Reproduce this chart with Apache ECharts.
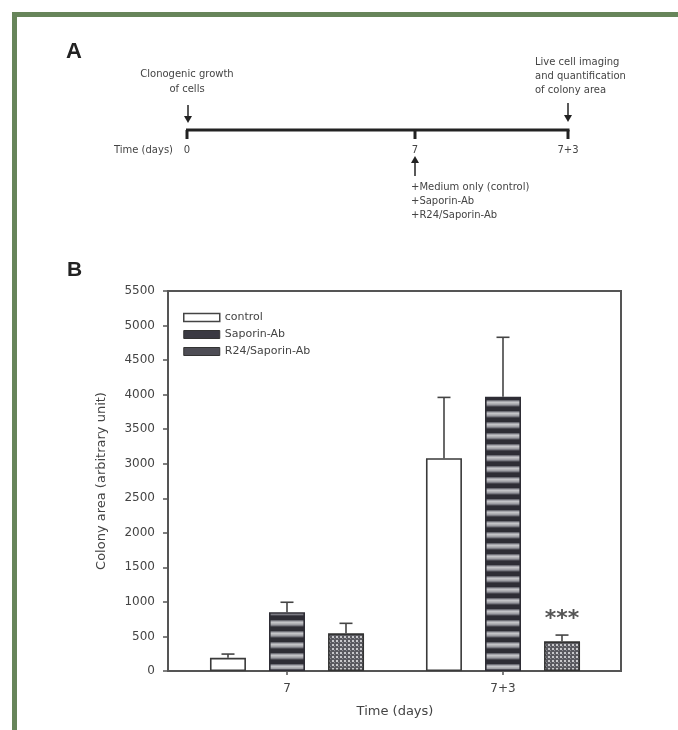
<!DOCTYPE html>
<html>
<head>
<meta charset="utf-8">
<script src="https://cdn.jsdelivr.net/npm/echarts@6/dist/echarts.min.js"></script>
<style>html,body{margin:0;padding:0;background:#fff;}#c{width:678px;height:730px;}</style>
</head>
<body>
<div id="c"></div>
<script>
// ---- data ----
const categories = ['7', '7+3'];
const seriesNames = ['control', 'Saporin-Ab', 'R24/Saporin-Ab'];
const controlMean = [190, 3080];
const controlErr = [55, 880];
const saporinMean = [850, 3970];
const saporinErr = [145, 860];
const r24Mean = [545, 430];
const r24Err = [145, 90];
const yMin = 0, yMax = 5500, yStep = 500;
const significance = ['', '***']; // for R24/Saporin-Ab
// panel A texts
const timelineLabels = ['0', '7', '7+3'];
const timelineAxisName = 'Time (days)';
const startNote = ['Clonogenic growth', 'of cells'];
const endNote = ['Live cell imaging', 'and quantification', 'of colony area'];
const treatNote = ['+Medium only (control)', '+Saporin-Ab', '+R24/Saporin-Ab'];

// ---- patterns ----
function stripePattern() {
  const c = document.createElement('canvas'); c.width = 4; c.height = 11;
  const g = c.getContext('2d');
  const rows = ['#2e2d35','#2e2d35','#2e2d35','#2e2d35','#6e6e76','#a4a4aa','#c4c4c8','#b4b4b8','#a0a0a6','#7a7a82','#48474f'];
  rows.forEach((col, i) => { g.fillStyle = col; g.fillRect(0, i, 4, 1); });
  return c;
}
function dotPattern() {
  const c = document.createElement('canvas'); c.width = 4; c.height = 4;
  const g = c.getContext('2d');
  g.fillStyle = '#5a5a60'; g.fillRect(0, 0, 4, 4);
  g.fillStyle = '#c8c8cb'; g.fillRect(0, 0, 2, 2);
  g.fillStyle = '#8e8e94'; g.fillRect(2, 2, 1, 1);
  return c;
}
const stripeFill = { image: stripePattern(), repeat: 'repeat' };
const dotFill = { image: dotPattern(), repeat: 'repeat' };

const FONT = 'DejaVu Sans';
const TXT = '#444';
const offsets = [-59, 0, 59];
const errSets = [
  categories.map((c, i) => [i, controlMean[i], controlMean[i] + controlErr[i]]),
  categories.map((c, i) => [i, saporinMean[i], saporinMean[i] + saporinErr[i]]),
  categories.map((c, i) => [i, r24Mean[i], r24Mean[i] + r24Err[i]])
];

function errSeries(k) {
  return {
    type: 'custom', xAxisIndex: 1, yAxisIndex: 1, z: 1,
    data: errSets[k],
    encode: { x: 0, y: 2 },
    renderItem: function (params, api) {
      const top = api.coord([api.value(0), api.value(2)]);
      const base = api.coord([api.value(0), api.value(1)]);
      const x = top[0] + offsets[k];
      const st = { stroke: '#444', lineWidth: 1.6 };
      return { type: 'group', children: [
        { type: 'line', shape: { x1: x, y1: base[1], x2: x, y2: top[1] }, style: st },
        { type: 'line', shape: { x1: x - 6.5, y1: top[1], x2: x + 6.5, y2: top[1] }, style: st }
      ]};
    }
  };
}

// ---- panel A graphics ----
const tlY = 130, tlX = [187, 415, 568];
const gfx = [];
gfx.push({ type: 'rect', shape: { x: 12, y: 12, width: 680, height: 5 }, style: { fill: '#67855a' } });
gfx.push({ type: 'rect', shape: { x: 12, y: 12, width: 5, height: 730 }, style: { fill: '#67855a' } });
gfx.push({ type: 'text', x: 66, y: 41, style: { text: 'A', font: 'bold 22px Liberation Sans', fill: '#222' } });
gfx.push({ type: 'text', x: 67, y: 260, style: { text: 'B', font: 'bold 21px Liberation Sans', fill: '#222' } });
gfx.push({ type: 'line', shape: { x1: tlX[0] - 1, y1: tlY, x2: tlX[2] + 1.5, y2: tlY }, style: { stroke: '#222', lineWidth: 3 } });
tlX.forEach((x, i) => {
  gfx.push({ type: 'line', shape: { x1: x, y1: tlY, x2: x, y2: tlY + 9 }, style: { stroke: '#222', lineWidth: 3 } });
  gfx.push({ type: 'text', x: x, y: 150, style: { text: timelineLabels[i], font: '10px ' + FONT, fill: TXT, align: 'center', verticalAlign: 'middle' } });
});
gfx.push({ type: 'text', x: 173, y: 150, style: { text: timelineAxisName, font: '10px ' + FONT, fill: TXT, align: 'right', verticalAlign: 'middle' } });
function arrow(x, y1, y2) {
  const dir = y2 > y1 ? 1 : -1;
  gfx.push({ type: 'line', shape: { x1: x, y1: y1, x2: x, y2: y2 - dir * 5 }, style: { stroke: '#222', lineWidth: 1.5 } });
  gfx.push({ type: 'polygon', shape: { points: [[x - 4, y2 - dir * 7], [x + 4, y2 - dir * 7], [x, y2]] }, style: { fill: '#222' } });
}
arrow(188, 105, 123);
arrow(568, 103, 122);
arrow(415, 176, 156);
startNote.forEach((t, i) => gfx.push({ type: 'text', x: 187, y: 74 + i * 15, style: { text: t, font: '10px ' + FONT, fill: TXT, align: 'center', verticalAlign: 'middle' } }));
endNote.forEach((t, i) => gfx.push({ type: 'text', x: 535, y: 62 + i * 14, style: { text: t, font: '10px ' + FONT, fill: TXT, align: 'left', verticalAlign: 'middle' } }));
treatNote.forEach((t, i) => gfx.push({ type: 'text', x: 411, y: 187 + i * 14, style: { text: t, font: '10px ' + FONT, fill: TXT, align: 'left', verticalAlign: 'middle' } }));

const chart = echarts.init(document.getElementById('c'), null, { renderer: 'canvas' });
chart.setOption({
  animation: false,
  backgroundColor: '#fff',
  textStyle: { fontFamily: FONT },
  graphic: gfx,
  legend: {
    orient: 'vertical', left: 178, top: 307,
    itemWidth: 36, itemHeight: 8, itemGap: 6, icon: 'rect',
    textStyle: { fontFamily: FONT, fontSize: 11, color: TXT },
    data: [
      { name: seriesNames[0], icon: 'rect', itemStyle: { color: '#fff', borderColor: '#444', borderWidth: 1.5 } },
      { name: seriesNames[1], icon: 'rect', itemStyle: { color: '#3a3942', borderColor: '#333', borderWidth: 1 } },
      { name: seriesNames[2], icon: 'rect', itemStyle: { color: '#4e4d55', borderColor: '#333', borderWidth: 1 } }
    ]
  },
  grid: [
    { left: 168, top: 291, width: 453, height: 380, show: true, borderColor: '#555', borderWidth: 2, backgroundColor: 'transparent' },
    { left: 179, top: 291, width: 432, height: 380 }
  ],
  xAxis: [
    { gridIndex: 0, type: 'category', data: categories, show: false },
    { gridIndex: 1, type: 'category', data: categories,
      axisLine: { show: false },
      axisTick: { show: true, alignWithLabel: true, length: 4, lineStyle: { color: '#555', width: 1.5 } },
      axisLabel: { margin: 12, fontSize: 12, color: TXT, fontFamily: FONT },
      name: 'Time (days)', nameLocation: 'middle', nameGap: 34,
      nameTextStyle: { fontSize: 13, color: TXT, fontFamily: FONT } }
  ],
  yAxis: [
    { gridIndex: 0, type: 'value', min: yMin, max: yMax, interval: yStep,
      axisLine: { show: true, lineStyle: { color: '#555', width: 2 } },
      axisTick: { show: true, length: 5, lineStyle: { color: '#555', width: 1.5 } },
      axisLabel: { margin: 13, fontSize: 12, color: TXT, fontFamily: FONT, formatter: v => String(v) },
      splitLine: { show: false },
      name: 'Colony area (arbitrary unit)', nameLocation: 'middle', nameGap: 60,
      nameTextStyle: { fontSize: 13, color: TXT, fontFamily: FONT } },
    { gridIndex: 1, type: 'value', min: yMin, max: yMax, interval: yStep, show: false, splitLine: { show: false } }
  ],
  series: [
    { name: seriesNames[0], type: 'bar', xAxisIndex: 1, yAxisIndex: 1, barWidth: 36, barGap: '64%', z: 2,
      itemStyle: { color: '#fff', borderColor: '#3a3a3a', borderWidth: 1.6 }, data: controlMean },
    { name: seriesNames[1], type: 'bar', xAxisIndex: 1, yAxisIndex: 1, barWidth: 36, barGap: '64%', z: 2,
      itemStyle: { color: stripeFill, borderColor: '#2e2d35', borderWidth: 1.6 }, data: saporinMean },
    { name: seriesNames[2], type: 'bar', xAxisIndex: 1, yAxisIndex: 1, barWidth: 36, barGap: '64%', z: 2,
      itemStyle: { color: dotFill, borderColor: '#333', borderWidth: 1.6 },
      label: { show: true, position: 'top', distance: 11,
        formatter: p => significance[p.dataIndex],
        fontSize: 22, fontWeight: 'bold', color: '#555', fontFamily: FONT },
      data: r24Mean },
    errSeries(0), errSeries(1), errSeries(2)
  ]
});
</script>
</body>
</html>
